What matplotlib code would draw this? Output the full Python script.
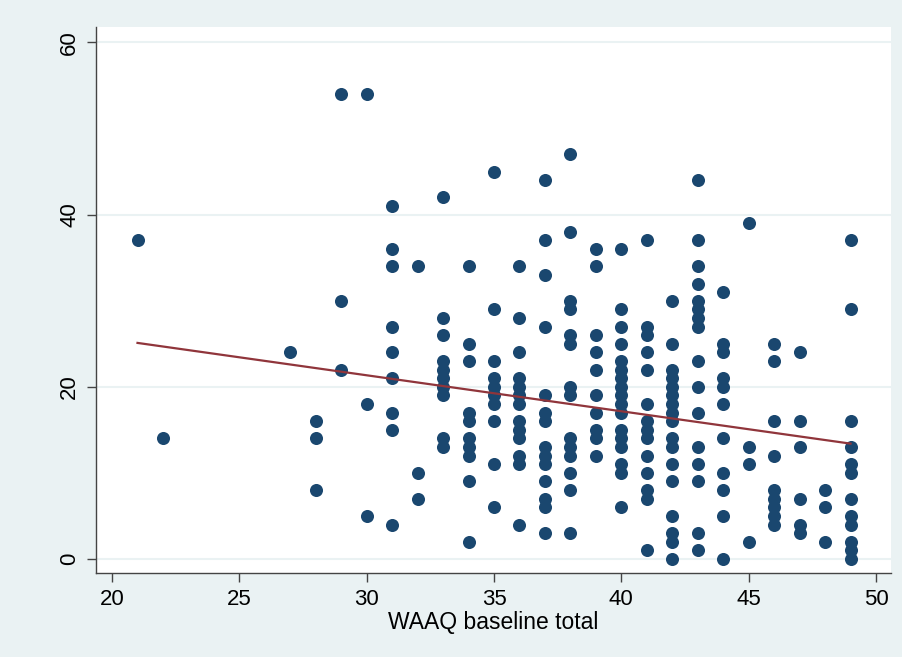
import matplotlib
matplotlib.use("Agg")
import matplotlib.pyplot as plt
import numpy as np

# Valores de WAAQ (eje x) y resultado por columna.
waaq_vals = [21, 22, 27, 28, 29, 30, 31, 32, 33, 34, 35, 36, 37, 38,
             39, 40, 41, 42, 43, 44, 45, 46, 47, 48, 49]
outcome_by_waaq = [
    [37],
    [14],
    [24],
    [16, 14, 8],
    [54, 30, 22],
    [54, 18, 5],
    [41, 36, 34, 27, 24, 21, 17, 15, 4],
    [34, 10, 7],
    [42, 28, 26, 23, 22, 21, 20, 19, 14, 13],
    [34, 25, 23, 17, 16, 14, 13, 12, 9, 2],
    [45, 29, 23, 21, 20, 19, 18, 16, 11, 6],
    [34, 28, 24, 21, 20, 19, 18, 16, 15, 14, 12, 11, 4],
    [44, 37, 33, 27, 19, 17, 16, 13, 12, 11, 9, 7, 6, 3],
    [47, 38, 30, 29, 26, 25, 20, 19, 14, 13, 12, 10, 8, 3],
    [36, 34, 26, 24, 22, 19, 17, 15, 14, 12],
    [36, 29, 27, 25, 23, 22, 21, 20, 19, 18, 17, 15, 14, 13, 11, 10, 6],
    [37, 27, 26, 24, 22, 18, 16, 15, 14, 12, 10, 8, 7, 1],
    [30, 25, 22, 21, 20, 19, 18, 17, 16, 14, 13, 11, 9, 5, 3, 2, 0],
    [44, 37, 34, 32, 30, 29, 28, 27, 23, 20, 17, 13, 11, 9, 3, 1],
    [31, 25, 24, 21, 20, 18, 14, 10, 8, 5, 0],
    [39, 13, 11, 2],
    [25, 23, 16, 12, 8, 7, 6, 5, 4],
    [24, 16, 13, 7, 4, 3],
    [8, 6, 2],
    [37, 29, 16, 13, 11, 10, 7, 5, 4, 2, 1, 0],
]

# Recta de ajuste (los puntos repetidos no se ven, así que
# no se puede recalcular exactamente a partir de los puntos visibles).
fit_x = [21, 49]
fit_y = [25.1, 13.4]

x_ticks = [20, 25, 30, 35, 40, 45, 50]
y_ticks = [0, 20, 40, 60]
x_label = "WAAQ baseline total"

# Aplanamos los datos.
x = np.array([w for w, ys in zip(waaq_vals, outcome_by_waaq) for _ in ys], dtype=float)
y = np.array([v for ys in outcome_by_waaq for v in ys], dtype=float)

plt.rcParams["font.family"] = ["Liberation Sans", "DejaVu Sans"]

bg = "#EAF2F3"
fig = plt.figure(figsize=(9.02, 6.57), dpi=100, facecolor=bg)
ax = fig.add_axes([96 / 902, 1 - 573 / 657, 795 / 902, 546 / 657])
ax.set_facecolor("white")

ax.plot(x, y, "o", color="#1A476F", markersize=9.4, markeredgewidth=0, zorder=3)
ax.plot(fit_x, fit_y, color="#90353B", linewidth=1.6, zorder=4)

ax.set_xlim(19.37, 50.59)
ax.set_ylim(-1.63, 61.8)
ax.set_xticks(x_ticks)
ax.set_yticks(y_ticks)
ax.grid(axis="y", color=bg, linewidth=1.5)
ax.set_axisbelow(True)

for side in ["top", "right"]:
    ax.spines[side].set_visible(False)
for side in ["left", "bottom"]:
    ax.spines[side].set_color("#444444")
    ax.spines[side].set_linewidth(1.0)

ax.tick_params(axis="both", direction="out", length=6.5, width=1.0,
               color="#444444", labelsize=16, pad=5)
for lab in ax.get_yticklabels():
    lab.set_rotation(90)
    lab.set_va("center")

ax.set_xlabel(x_label, fontsize=16.5, labelpad=1)

fig.savefig("out.png", dpi=100, facecolor=bg)
